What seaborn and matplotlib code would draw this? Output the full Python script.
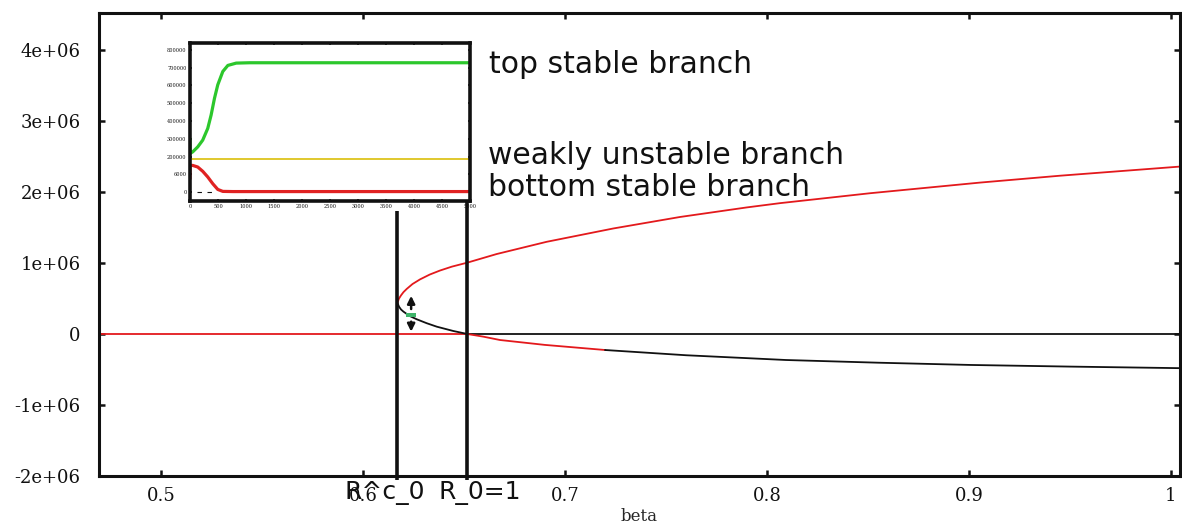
import matplotlib
matplotlib.use("Agg")
import matplotlib.pyplot as plt
from matplotlib.transforms import offset_copy
import seaborn as sns

# ---- equilibrium branches of the bifurcation diagram (beta vs. equilibrium level) ----
beta_upper = [0.6170, 0.6178, 0.6188, 0.6200, 0.6216, 0.6245, 0.6282, 0.6330, 0.6381,
              0.6440, 0.6516, 0.6662, 0.6909, 0.7239, 0.7569, 0.7900, 0.8064, 0.8510,
              0.9054, 0.9450, 1.0045]
n_upper = [0.44e6, 0.50e6, 0.545e6, 0.59e6, 0.635e6, 0.705e6, 0.770e6, 0.838e6, 0.895e6,
           0.950e6, 1.006e6, 1.128e6, 1.300e6, 1.488e6, 1.650e6, 1.785e6, 1.845e6, 1.985e6,
           2.135e6, 2.232e6, 2.361e6]

# lower branch: unstable piece between the fold and R_0 = 1
beta_lower_a = [0.6170, 0.6178, 0.6188, 0.6200, 0.6230, 0.6266, 0.6315, 0.6365, 0.6447, 0.6516]
n_lower_a = [0.44e6, 0.385e6, 0.345e6, 0.315e6, 0.255e6, 0.207e6, 0.152e6, 0.103e6, 0.042e6, 0.0]
# lower branch: short stable piece past R_0 = 1
beta_lower_b = [0.6516, 0.6596, 0.6678, 0.6900, 0.7198]
n_lower_b = [0.0, -0.038e6, -0.085e6, -0.154e6, -0.226e6]
# lower branch: remainder
beta_lower_c = [0.7198, 0.7600, 0.8094, 0.8550, 0.9010, 0.9500, 1.0045]
n_lower_c = [-0.226e6, -0.300e6, -0.367e6, -0.405e6, -0.437e6, -0.460e6, -0.482e6]

# trivial (disease-free) branch
beta_trivial_stable = [0.469, 0.6516]
n_trivial_stable = [0.0, 0.0]
beta_trivial_unstable = [0.6516, 1.0045]
n_trivial_unstable = [0.0, 0.0]

beta_fold = 0.6166        # R^c_0
beta_threshold = 0.6516   # R_0 = 1
state_beta = [0.6238]
state_n = [0.264e6]

x_ticks = [0.5, 0.6, 0.7, 0.8, 0.9, 1.0]
x_tick_labels = ["0.5", "0.6", "0.7", "0.8", "0.9", "1"]
y_ticks = [-2e6, -1e6, 0, 1e6, 2e6, 3e6, 4e6]
y_tick_labels = ["-2e+06", "-1e+06", "0", "1e+06", "2e+06", "3e+06", "4e+06"]

# ---- inset: trajectories started near the weakly unstable branch ----
t_top = [0, 0, 48, 138, 227, 317, 377, 437, 496, 586, 676, 825, 1065, 5000]
n_top = [300000, 217000, 226000, 254000, 292000, 358000, 433000, 527000,
         603000, 678000, 712000, 725000, 727000, 727000]
t_mid = [0, 5000]
n_mid = [188000, 188000]
t_bottom = [0, 0, 48, 138, 227, 317, 407, 496, 586, 766, 5000]
n_bottom = [75000, 150000, 150000, 141000, 117000, 85000, 47000, 15000, 4000,
            3000, 3000]
t_ref = [120, 420]
n_ref = [0, 0]

inset_x_ticks = list(range(0, 5001, 500))
inset_x_labels = [str(v) for v in inset_x_ticks]
inset_y_ticks = list(range(0, 800001, 100000))
inset_y_labels = ["0", "6000", "200000", "300000", "400000", "500000",
                  "600000", "700000", "800000"]

RED = "#e3191c"
BLACK = "#111111"

sns.set_theme(style="ticks")
plt.rcParams["font.family"] = ["DejaVu Sans"]

W, H = 1182, 527
fig = plt.figure(figsize=(W / 100, H / 100), dpi=100)


def fx(px):
    return px / W


def fy(py):
    return 1 - py / H


ax = fig.add_axes([fx(98.5), fy(476), fx(1180) - fx(98.5), fy(13) - fy(476)])

line_kw = dict(ax=ax, estimator=None, sort=False, lw=1.3)
sns.lineplot(x=beta_trivial_stable, y=n_trivial_stable, color=RED, **line_kw)
sns.lineplot(x=beta_trivial_unstable, y=n_trivial_unstable, color=BLACK, **line_kw)
sns.lineplot(x=beta_lower_a, y=n_lower_a, color=BLACK, **line_kw)
sns.lineplot(x=beta_lower_b, y=n_lower_b, color=RED, **line_kw)
sns.lineplot(x=beta_lower_c, y=n_lower_c, color=BLACK, **line_kw)
sns.lineplot(x=beta_upper, y=n_upper, color=RED, **line_kw)

# vertical markers for R^c_0 and R_0 = 1
ax.vlines([beta_fold], -2.06e6, 1.74e6, color=BLACK, lw=2.6, clip_on=False, zorder=3)
ax.vlines([beta_threshold], -2.06e6, 1.88e6, color=BLACK, lw=2.6, clip_on=False, zorder=3)

# perturbed state with arrows pointing to both stable branches
ax.scatter(state_beta, state_n, marker=[(-1.1, -0.5), (1.1, -0.5), (1.1, 0.5), (-1.1, 0.5)],
           s=55, color="#3fb56b", linewidths=0, zorder=5)
arrow_kw = dict(arrowstyle="-|>", color=BLACK, lw=1.8, mutation_scale=11, shrinkA=0, shrinkB=0)
state_xy = (state_beta[0], state_n[0])


def shifted(dy):
    return offset_copy(ax.transData, fig=fig, x=0, y=dy, units="points")


ax.annotate("", xy=state_xy, xycoords=shifted(14), xytext=state_xy,
            textcoords=shifted(4.5), arrowprops=arrow_kw)
ax.annotate("", xy=state_xy, xycoords=shifted(-11.8), xytext=state_xy,
            textcoords=shifted(-4.6), arrowprops=arrow_kw)

ax.set_xlim(0.469, 1.0045)
ax.set_ylim(-2.003e6, 4.527e6)
ax.set_xticks(x_ticks)
ax.set_xticklabels(x_tick_labels)
ax.set_yticks(y_ticks)
ax.set_yticklabels(y_tick_labels)
for s in ax.spines.values():
    s.set_visible(True)
    s.set_linewidth(2.2)
    s.set_color(BLACK)
ax.tick_params(direction="in", length=4.5, width=1.8, top=True, right=True,
               labeltop=False, labelright=False, colors=BLACK)
ax.tick_params(axis="y", pad=13)
ax.tick_params(axis="x", pad=8)
for lab in ax.get_xticklabels() + ax.get_yticklabels():
    lab.set_fontfamily("DejaVu Serif")
    lab.set_fontsize(13)
ax.set_xlabel("beta", fontfamily="DejaVu Serif", fontsize=12, labelpad=2)
ax.set_ylabel("")
ax.grid(False)

# ---- inset ----
axi = fig.add_axes([fx(190), fy(201), fx(470) - fx(190), fy(43) - fy(201)])
ikw = dict(ax=axi, estimator=None, sort=False)
sns.lineplot(x=t_mid, y=n_mid, color="#ddc41c", lw=1.3, **ikw)
sns.lineplot(x=t_top, y=n_top, color="#2cc72c", lw=2.3, **ikw)
sns.lineplot(x=t_bottom, y=n_bottom, color="#e02222", lw=2.3, **ikw)
sns.lineplot(x=t_ref, y=n_ref, color=BLACK, lw=0.8, linestyle=(0, (4, 5)), **ikw)
axi.set_xlim(0, 5000)
axi.set_ylim(-50000, 838000)
axi.set_xticks(inset_x_ticks)
axi.set_xticklabels(inset_x_labels)
axi.set_yticks(inset_y_ticks)
axi.set_yticklabels(inset_y_labels)
for s in axi.spines.values():
    s.set_visible(True)
    s.set_linewidth(2.6)
    s.set_color(BLACK)
axi.tick_params(direction="in", length=1.6, width=1.2, top=True, right=True,
                labeltop=False, labelright=False, pad=2.5, colors=BLACK)
for lab in axi.get_xticklabels() + axi.get_yticklabels():
    lab.set_fontfamily("DejaVu Serif")
    lab.set_fontsize(3.6)
axi.set_xlabel("")
axi.set_ylabel("")
axi.grid(False)

# ---- annotations ----
label_kw = dict(fontfamily="DejaVu Sans", color=BLACK, va="baseline", ha="left")
fig.text(fx(489), fy(73), "top stable branch", fontsize=21.5, **label_kw)
fig.text(fx(488), fy(164), "weakly unstable branch", fontsize=21.5, **label_kw)
fig.text(fx(488), fy(196), "bottom stable branch", fontsize=21.5, **label_kw)
fig.text(fx(385), fy(499), "R^c_0", fontsize=18, fontfamily="DejaVu Sans", color=BLACK,
         ha="center", va="baseline")
fig.text(fx(480), fy(499), "R_0=1", fontsize=18, fontfamily="DejaVu Sans", color=BLACK,
         ha="center", va="baseline")

fig.savefig("out.png", dpi=100, facecolor="white")
